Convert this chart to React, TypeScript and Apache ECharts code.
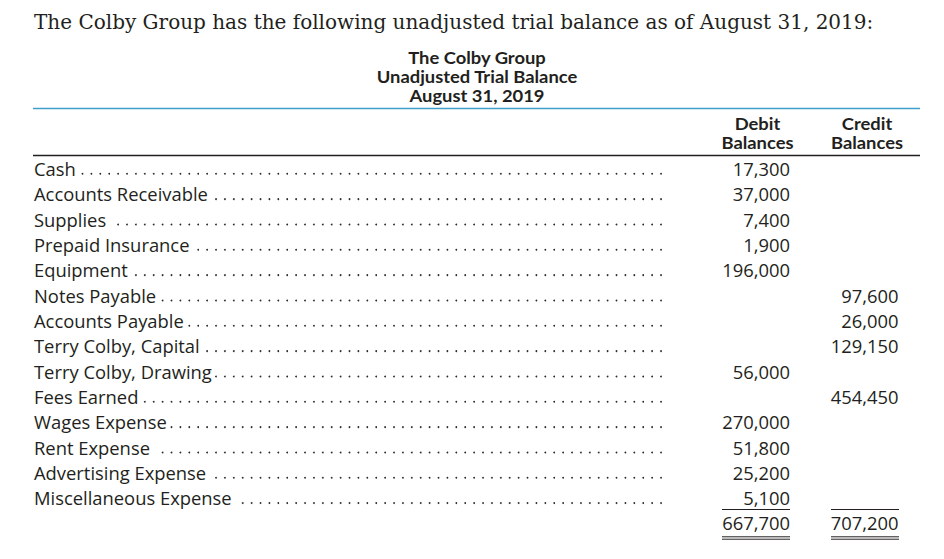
import React, { useEffect, useRef } from "react";
import * as echarts from "echarts";

const introText =
  "The Colby Group has the following unadjusted trial balance as of August 31, 2019:";
const titleLines = ["The Colby Group", "Unadjusted Trial Balance", "August 31, 2019"];
const debitHeader = ["Debit", "Balances"];
const creditHeader = ["Credit", "Balances"];
const accounts = [
  "Cash",
  "Accounts Receivable",
  "Supplies",
  "Prepaid Insurance",
  "Equipment",
  "Notes Payable",
  "Accounts Payable",
  "Terry Colby, Capital",
  "Terry Colby, Drawing",
  "Fees Earned",
  "Wages Expense",
  "Rent Expense",
  "Advertising Expense",
  "Miscellaneous Expense",
];
const debitBalances: (number | null)[] = [
  17300, 37000, 7400, 1900, 196000, null, null, null, 56000, null, 270000, 51800, 25200, 5100,
];
const creditBalances: (number | null)[] = [
  null, null, null, null, null, 97600, 26000, 129150, null, 454450, null, null, null, null,
];

const W = 944;
const H = 559;
const INK = "#231f20";
const BLUE = "#3f9fcb";
const SANS = "'Open Sans', 'Noto Sans', sans-serif";
const BOLD_SANS = "Lato, 'Open Sans', sans-serif";
const SERIF = "'DejaVu Serif', 'Liberation Serif', serif";
const BODY_SIZE = 17.5;
const BODY_SCALE = 1.05;
const BODY_FONT = `${BODY_SIZE}px ${SANS}`;
const BOLD_SIZE = 17.5;
const BOLD_SCALE = 1.05;
const BOLD_FONT = `bold ${BOLD_SIZE}px ${BOLD_SANS}`;
const HEAD_LINE = 19.2;

const fmt = (v: number) => v.toLocaleString("en-US");

function measure(text: string, font: string): number {
  const ctx = document.createElement("canvas").getContext("2d");
  if (!ctx) return text.length * 8;
  ctx.font = font;
  return ctx.measureText(text).width;
}

function txt(
  x: number,
  midY: number,
  text: string,
  font: string,
  align: string,
  scaleX: number,
  lineHeight?: number
) {
  return {
    type: "text",
    silent: true,
    x,
    y: midY,
    scaleX,
    style: {
      x: 0,
      y: 0,
      text,
      font,
      fill: INK,
      lineHeight,
      align,
      verticalAlign: "middle",
      textAlign: align,
      textVerticalAlign: "middle",
    },
  };
}

function hline(x1: number, x2: number, y: number, stroke: string, lineWidth: number) {
  return {
    type: "line",
    silent: true,
    shape: { x1, y1: y, x2, y2: y },
    style: { stroke, lineWidth },
  };
}

export default function App() {
  const ref = useRef<HTMLDivElement>(null);
  useEffect(() => {
    if (!ref.current) return;
    const chart = echarts.init(ref.current, undefined, { renderer: "svg", width: W, height: H });

    const LEFT = 34;
    const RULE_L = 33;
    const RULE_R = 920;
    const DEBIT_R = 790;
    const CREDIT_R = 898.5;
    const DEBIT_C = 757.5;
    const CREDIT_C = 867;
    const ROW0 = 175;
    const ROW_STEP = 25.33;
    const DOT_END = 661;
    const DOT_STEP = 8.9;
    const mid = (baseline: number, size: number) => baseline - size * 0.34;

    const els: any[] = [];
    // intro sentence
    els.push(txt(LEFT, mid(28.5, 20), introText, `20px ${SERIF}`, "left", 1));
    // title block (3 lines, centred on the middle line)
    els.push(
      txt(477, mid(82.3, BOLD_SIZE), titleLines.join("\n"), BOLD_FONT, "center", BOLD_SCALE, HEAD_LINE)
    );
    els.push(hline(RULE_L, RULE_R, 108.5, BLUE, 1.5));
    // column headers (2 lines each)
    const headMid = mid((129 + 148.2) / 2, BOLD_SIZE);
    els.push(txt(DEBIT_C, headMid, debitHeader.join("\n"), BOLD_FONT, "center", BOLD_SCALE, HEAD_LINE));
    els.push(txt(CREDIT_C, headMid, creditHeader.join("\n"), BOLD_FONT, "center", BOLD_SCALE, HEAD_LINE));
    els.push(hline(RULE_L, RULE_R, 155.5, INK, 1.5));

    // rows
    accounts.forEach((name, i) => {
      const b = ROW0 + i * ROW_STEP;
      els.push(txt(LEFT, mid(b, BODY_SIZE), name, BODY_FONT, "left", BODY_SCALE));
      const end = LEFT + measure(name, BODY_FONT) * BODY_SCALE;
      for (let x = DOT_END; x > end + 4; x -= DOT_STEP) {
        els.push({
          type: "circle",
          silent: true,
          shape: { cx: x, cy: b - 1.2, r: 0.9 },
          style: { fill: "#2b2b2b" },
        });
      }
      const d = debitBalances[i];
      const c = creditBalances[i];
      if (d != null) els.push(txt(DEBIT_R, mid(b, BODY_SIZE), fmt(d), BODY_FONT, "right", BODY_SCALE));
      if (c != null) els.push(txt(CREDIT_R, mid(b, BODY_SIZE), fmt(c), BODY_FONT, "right", BODY_SCALE));
    });

    // totals
    const debitTotal = debitBalances.reduce<number>((s, v) => s + (v ?? 0), 0);
    const creditTotal = creditBalances.reduce<number>((s, v) => s + (v ?? 0), 0);
    const totalB = 529.5;
    els.push(hline(722, 790, 509.5, INK, 1.2));
    els.push(hline(831, 899, 509.5, INK, 1.2));
    els.push(txt(DEBIT_R, mid(totalB, BODY_SIZE), fmt(debitTotal), BODY_FONT, "right", BODY_SCALE));
    els.push(txt(CREDIT_R, mid(totalB, BODY_SIZE), fmt(creditTotal), BODY_FONT, "right", BODY_SCALE));
    [536.8, 539.2].forEach((y) => {
      els.push(hline(722, 790, y, INK, 1));
      els.push(hline(831, 899, y, INK, 1));
    });

    chart.setOption({
      animation: false,
      backgroundColor: "#ffffff",
      graphic: { elements: els },
    });
    return () => chart.dispose();
  }, []);

  return (
    <div
      ref={ref}
      style={{ position: "fixed", left: 0, top: 0, width: W, height: H, background: "#fff" }}
    />
  );
}
